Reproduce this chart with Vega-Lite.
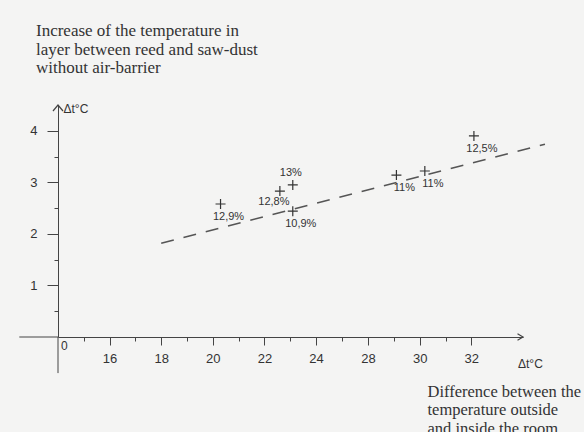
{
  "$schema": "https://vega.github.io/schema/vega-lite/v6.json",
  "width": 465,
  "height": 232,
  "autosize": {"type": "none"},
  "padding": {"left": 58, "top": 105, "right": 61, "bottom": 95},
  "background": "#f4f4f3",
  "config": {"view": {"stroke": null}, "font": "Liberation Sans"},
  "datasets": {
    "points": [
      {"x": 20.3, "y": 2.58, "moisture": "12,9%"},
      {"x": 22.6, "y": 2.83, "moisture": "12,8%"},
      {"x": 23.1, "y": 2.95, "moisture": "13%"},
      {"x": 23.1, "y": 2.44, "moisture": "10,9%"},
      {"x": 29.1, "y": 3.14, "moisture": "11%"},
      {"x": 30.2, "y": 3.22, "moisture": "11%"},
      {"x": 32.1, "y": 3.9, "moisture": "12,5%"}
    ],
    "trend": [
      {"x": 18, "y": 1.82},
      {"x": 34.85, "y": 3.74}
    ],
    "axislines": [
      {"x": 12.5, "x2": 14, "y": 0, "y2": 0},
      {"x": 14, "x2": 14, "y": -0.7, "y2": 0}
    ],
    "arrows": [
      {"x": 34, "y": 0, "dir": "x"},
      {"x": 14, "y": 4.5, "dir": "y"}
    ],
    "notes": [
      {"x": 34, "y": 0, "text": "Δt°C", "kind": "unit"},
      {"x": 14, "y": 0, "text": "0", "kind": "origin"}
    ]
  },
  "title": {
    "text": ["Increase of the temperature in", "layer between reed and saw-dust", "without air-barrier"],
    "anchor": "start",
    "frame": "group",
    "dx": -22,
    "baseline": "bottom",
    "offset": 8,
    "font": "Liberation Serif",
    "fontSize": 17,
    "fontWeight": "normal",
    "color": "#333333",
    "lineHeight": 18.5
  },
  "encoding": {
    "x": {
      "field": "x",
      "type": "quantitative",
      "scale": {"domain": [14, 24, 28, 34], "range": [0, 258, 310, 465], "nice": false, "zero": false},
      "axis": {
        "values": [15, 16, 17, 18, 19, 20, 21, 22, 23, 24, 26, 28, 29, 30, 31, 32],
        "labelExpr": "datum.value % 2 === 0 && datum.value !== 26 ? format(datum.value, 'd') : ''",
        "tickSize": {"condition": {"test": "datum.value % 2 === 0 && datum.value !== 26", "value": 8}, "value": 4},
        "labelOverlap": false,
        "labelFlush": false,
        "labelBound": false,
        "grid": false,
        "domainColor": "#444444",
        "tickColor": "#444444",
        "labelColor": "#333333",
        "labelFont": "Liberation Sans",
        "labelFontSize": 13,
        "labelPadding": 7,
        "title": ["Difference between the", "temperature outside", "and inside the room"],
        "titleX": 369,
        "titleY": 59,
        "titleAnchor": null,
        "titleAlign": "left",
        "titleBaseline": "alphabetic",
        "titleFont": "Liberation Serif",
        "titleFontSize": 16.5,
        "titleFontWeight": "normal",
        "titleColor": "#333333",
        "titleLineHeight": 18.5
      }
    },
    "y": {
      "field": "y",
      "type": "quantitative",
      "scale": {"domain": [0, 4.5], "nice": false},
      "axis": {
        "values": [0.5, 1, 1.5, 2, 2.5, 3, 3.5, 4],
        "labelExpr": "datum.value % 1 === 0 ? format(datum.value, 'd') : ''",
        "tickSize": {"condition": {"test": "datum.value % 1 === 0", "value": 11}, "value": 4},
        "labelOverlap": false,
        "labelFlush": false,
        "labelBound": false,
        "grid": false,
        "domainColor": "#444444",
        "tickColor": "#444444",
        "labelColor": "#333333",
        "labelFont": "Liberation Sans",
        "labelFontSize": 13,
        "labelPadding": 10,
        "title": "Δt°C",
        "titleAngle": 0,
        "titleAnchor": null,
        "titleAlign": "left",
        "titleBaseline": "top",
        "titleX": 5,
        "titleY": -2,
        "titleFont": "Liberation Sans",
        "titleFontSize": 12,
        "titleFontWeight": "normal",
        "titleColor": "#333333"
      }
    }
  },
  "layer": [
    {
      "data": {"name": "axislines"},
      "mark": {"type": "rule", "color": "#444444", "strokeWidth": 1, "clip": false},
      "encoding": {"x2": {"field": "x2"}, "y2": {"field": "y2"}}
    },
    {
      "data": {"name": "trend"},
      "mark": {"type": "line", "color": "#555555", "strokeWidth": 1.6, "strokeDash": [13, 10], "clip": false}
    },
    {
      "data": {"name": "arrows"},
      "transform": [{"filter": "datum.dir === 'x'"}],
      "mark": {"type": "point", "shape": "M -2 -1.2 L 0 0 L -2 1.2", "size": 30, "filled": false, "stroke": "#444444", "strokeWidth": 1.2, "opacity": 1, "clip": false}
    },
    {
      "data": {"name": "arrows"},
      "transform": [{"filter": "datum.dir === 'y'"}],
      "mark": {"type": "point", "shape": "M -1 1.2 L 0 0 L 1 1.2", "size": 100, "filled": false, "stroke": "#444444", "strokeWidth": 1.2, "opacity": 1, "clip": false}
    },
    {
      "data": {"name": "points"},
      "mark": {"type": "point", "shape": "M -1 0 L 1 0 M 0 -1 L 0 1", "size": 100, "filled": false, "stroke": "#333333", "strokeWidth": 1.2, "opacity": 1}
    },
    {
      "data": {"name": "points"},
      "transform": [{"filter": "datum.moisture !== '12,8%' && datum.moisture !== '13%'"}],
      "mark": {"type": "text", "fontSize": 11, "color": "#333333", "align": "center", "baseline": "middle", "dx": 8, "dy": 13},
      "encoding": {"text": {"field": "moisture"}}
    },
    {
      "data": {"name": "points"},
      "transform": [{"filter": "datum.moisture === '12,8%'"}],
      "mark": {"type": "text", "fontSize": 11, "color": "#333333", "align": "center", "baseline": "middle", "dx": -6, "dy": 11},
      "encoding": {"text": {"field": "moisture"}}
    },
    {
      "data": {"name": "points"},
      "transform": [{"filter": "datum.moisture === '13%'"}],
      "mark": {"type": "text", "fontSize": 11, "color": "#333333", "align": "center", "baseline": "middle", "dx": -2, "dy": -12},
      "encoding": {"text": {"field": "moisture"}}
    },
    {
      "data": {"name": "notes"},
      "transform": [{"filter": "datum.kind === 'unit'"}],
      "mark": {"type": "text", "fontSize": 12, "color": "#333333", "align": "left", "baseline": "alphabetic", "dx": -5, "dy": 31, "clip": false},
      "encoding": {"text": {"field": "text"}}
    },
    {
      "data": {"name": "notes"},
      "transform": [{"filter": "datum.kind === 'origin'"}],
      "mark": {"type": "text", "fontSize": 12, "color": "#333333", "align": "left", "baseline": "top", "dx": 3, "dy": 4},
      "encoding": {"text": {"field": "text"}}
    }
  ]
}
